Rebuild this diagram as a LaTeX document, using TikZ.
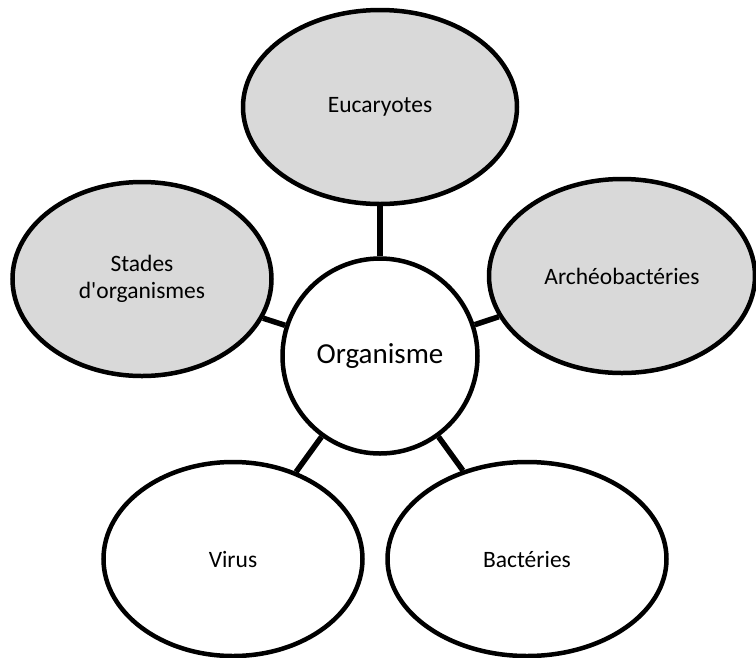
\documentclass[tikz,border=0pt]{standalone}
\usepackage{fontspec}
\setmainfont{Carlito}
\usetikzlibrary{shapes.geometric}

\begin{document}
\begin{tikzpicture}[x=1pt,y=-1pt,
  bubble/.style={draw=black,line width=4.5pt,ellipse,inner sep=0pt,minimum height=194pt,
    align=center,font=\fontsize{23.5}{27}\selectfont},
  greybubble/.style={bubble,fill=greyfill},
  whitebubble/.style={bubble,fill=white},
  link/.style={draw=black,line width=5.5pt}]
\definecolor{greyfill}{HTML}{D9D9D9}
\useasboundingbox (0,0) rectangle (756,657);

\node[whitebubble,circle,minimum size=195pt,font=\fontsize{29}{34}\selectfont] (organisme) at (380,356) {Organisme};

\node[greybubble,minimum width=274pt] (eucaryotes) at (380,107) {Eucaryotes};
\node[greybubble,minimum width=259pt] (stades) at (142,279) {Stades\\d\textquotesingle organismes};
\node[greybubble,minimum width=266pt] (archeo) at (622,276) {Archéobactéries};
\node[whitebubble,minimum width=259pt] (virus) at (233,559) {Virus};
\node[whitebubble,minimum width=279pt] (bacteries) at (527,559) {Bactéries};

\draw[link] (organisme) -- (eucaryotes);
\draw[link] (organisme) -- (stades);
\draw[link] (organisme) -- (archeo);
\draw[link] (organisme) -- (virus);
\draw[link] (organisme) -- (bacteries);
\end{tikzpicture}
\end{document}
